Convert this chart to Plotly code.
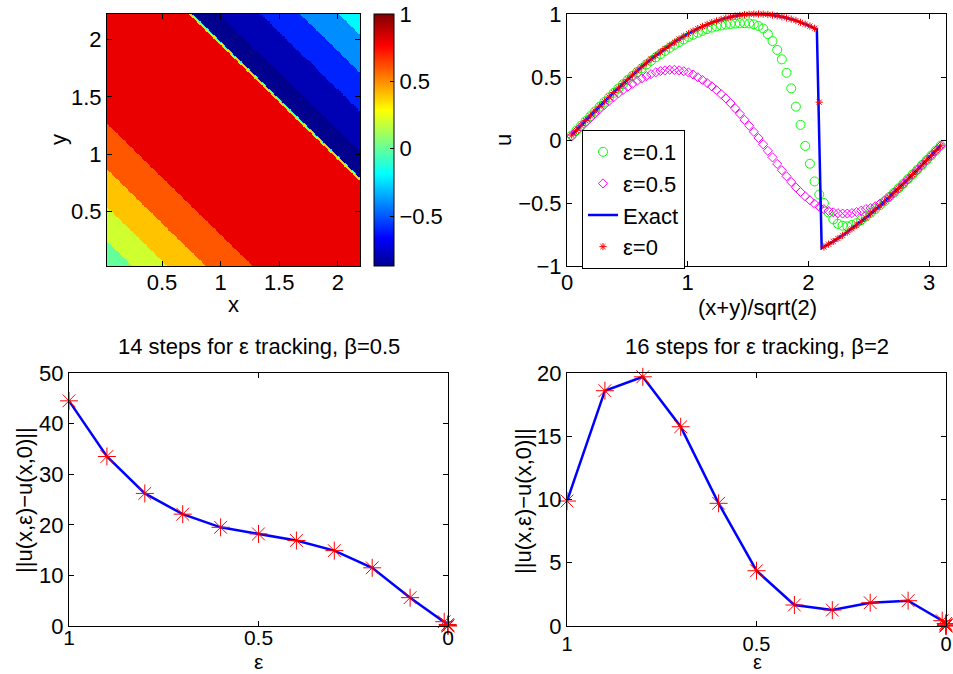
import numpy as np
import plotly.graph_objects as go

# ------------------------------------------------------------------ data
# heatmap (top-left): colour bands of u over (x, y); bands are stripes of constant x+y
HEAT_GRID = np.round(np.arange(0.005, 2.24, 0.01), 3)          # cell centres in x and in y
SUM_EDGES = [0.26, 0.56, 0.89, 1.295, 2.958, 2.972, 2.986, 3.21, 3.57, 3.905, 4.23]   # x+y band limits
BAND_VALUES = [0.0, 0.2, 0.4, 0.6, 0.8, 0.35, -0.15, -0.87, -0.8, -0.6, -0.4, -0.2]
C_MIN, C_MAX = -0.87, 1.0

# profiles along (x+y)/sqrt(2) (top-right)
S_GRID = np.round(0.0387 * np.arange(1, 81), 4)
U_EPS01 = [0.036, 0.074, 0.113, 0.151, 0.189, 0.227, 0.265, 0.302, 0.338, 0.374,
           0.409, 0.443, 0.476, 0.508, 0.539, 0.569, 0.600, 0.628, 0.656, 0.682,
           0.707, 0.732, 0.755, 0.777, 0.798, 0.818, 0.835, 0.852, 0.866, 0.880,
           0.892, 0.901, 0.909, 0.916, 0.921, 0.924, 0.926, 0.927, 0.925, 0.918,
           0.905, 0.885, 0.840, 0.785, 0.715, 0.640, 0.533, 0.410, 0.265, 0.120,
           -0.047, -0.188, -0.329, -0.433, -0.500, -0.575, -0.630, -0.665, -0.680, -0.685,
           -0.675, -0.660, -0.635, -0.607, -0.578, -0.548, -0.517, -0.486, -0.452, -0.418,
           -0.383, -0.347, -0.310, -0.273, -0.236, -0.198, -0.160, -0.122, -0.083, -0.045]
U_EPS05 = [0.030, 0.070, 0.105, 0.140, 0.175, 0.210, 0.245, 0.278, 0.310, 0.340,
           0.370, 0.397, 0.422, 0.446, 0.469, 0.489, 0.507, 0.523, 0.537, 0.547,
           0.553, 0.557, 0.557, 0.553, 0.546, 0.536, 0.520, 0.498, 0.477, 0.452,
           0.425, 0.396, 0.364, 0.331, 0.293, 0.252, 0.208, 0.160, 0.113, 0.065,
           0.016, -0.034, -0.086, -0.138, -0.190, -0.240, -0.288, -0.333, -0.376, -0.413,
           -0.447, -0.478, -0.506, -0.530, -0.549, -0.563, -0.574, -0.581, -0.584, -0.584,
           -0.580, -0.572, -0.561, -0.548, -0.540, -0.525, -0.505, -0.480, -0.452, -0.420,
           -0.385, -0.349, -0.312, -0.274, -0.237, -0.199, -0.161, -0.123, -0.084, -0.046]
U_EPS0 = [0.039, 0.077, 0.116, 0.154, 0.192, 0.230, 0.268, 0.305, 0.341, 0.377,
          0.413, 0.448, 0.482, 0.516, 0.548, 0.580, 0.612, 0.642, 0.671, 0.699,
          0.726, 0.752, 0.777, 0.801, 0.824, 0.845, 0.865, 0.884, 0.901, 0.917,
          0.932, 0.945, 0.957, 0.968, 0.977, 0.984, 0.990, 0.995, 0.998, 1.000,
          1.000, 0.999, 0.996, 0.991, 0.986, 0.978, 0.969, 0.959, 0.948, 0.934,
          0.920, 0.904, 0.887, 0.300, -0.849, -0.827, -0.805, -0.782, -0.757, -0.731,
          -0.704, -0.676, -0.647, -0.617, -0.586, -0.554, -0.522, -0.488, -0.454, -0.419,
          -0.384, -0.348, -0.311, -0.274, -0.237, -0.199, -0.161, -0.123, -0.084, -0.046]
EXACT_S = [0.04, 0.1, 0.2, 0.3, 0.4, 0.5, 0.6, 0.7, 0.8, 0.9, 1.0, 1.1, 1.2, 1.3, 1.4, 1.5, 1.6,
           1.7, 1.8, 1.9, 2.0, 2.07, 2.11, 2.2, 2.3, 2.4, 2.5, 2.6, 2.7, 2.8, 2.9, 3.0, 3.1]
EXACT_U = [0.04, 0.0998, 0.1987, 0.2955, 0.3894, 0.4794, 0.5646, 0.6442, 0.7174, 0.7833,
           0.8415, 0.8912, 0.9320, 0.9636, 0.9854, 0.9975, 0.9996, 0.9917, 0.9738, 0.9463,
           0.9093, 0.8779, -0.8580, -0.8085, -0.7457, -0.6755, -0.5985, -0.5155, -0.4274,
           -0.3350, -0.2392, -0.1411, -0.0416]

# epsilon tracking (bottom)
EPS_A = [1.0, 0.9, 0.8, 0.7, 0.6, 0.5, 0.4, 0.3, 0.2, 0.1, 0.01, 0.001, 0.0001, 0.0]
ERR_A = [44.5, 33.5, 26.2, 22.1, 19.5, 18.2, 16.9, 14.9, 11.5, 5.6, 0.85, 0.3, 0.1, 0.0]
EPS_B = [1.0, 0.9, 0.8, 0.7, 0.6, 0.5, 0.4, 0.3, 0.2, 0.1, 0.01, 0.001, 0.0001, 1e-5, 1e-6, 0.0]
ERR_B = [9.88, 18.6, 19.7, 15.75, 9.7, 4.37, 1.66, 1.26, 1.84, 2.0, 0.42, 0.2, 0.1, 0.05, 0.02, 0.0]

TITLE_A = "14 steps for ε tracking, β=0.5"
TITLE_B = "16 steps for ε tracking, β=2"
ERR_LABEL = "||u(x,ε)−u(x,0)||"

# ------------------------------------------------------------------ helpers
W, H = 953, 674
FONT = "Liberation Sans, Arial, Helvetica, sans-serif"
FS = 22


def dom_x(a, b):
    return [a / W, b / W]


def dom_y(top, bottom):
    return [1 - bottom / H, 1 - top / H]


JET = [[0.0, "rgb(0,0,143)"], [0.111, "rgb(0,0,255)"], [0.365, "rgb(0,255,255)"],
       [0.619, "rgb(255,255,0)"], [0.873, "rgb(255,0,0)"], [1.0, "rgb(128,0,0)"]]

gx, gy = np.meshgrid(HEAT_GRID, HEAT_GRID)
band_idx = np.searchsorted(np.array(SUM_EDGES), gx + gy)
Z = np.array(BAND_VALUES)[band_idx]

fig = go.Figure()

fig.add_trace(go.Heatmap(
    x=HEAT_GRID, y=HEAT_GRID, z=Z, zmin=C_MIN, zmax=C_MAX, colorscale=JET,
    zsmooth=False, xaxis="x", yaxis="y", hoverinfo="skip",
    colorbar=dict(x=374 / W, xanchor="left", xpad=0, ypad=0,
                  y=1 - 140 / H, yanchor="middle", len=252 / H, lenmode="fraction",
                  thickness=20, thicknessmode="pixels",
                  outlinecolor="black", outlinewidth=1,
                  tickvals=[-0.5, 0, 0.5, 1], ticktext=["−0.5", "0", "0.5", "1"],
                  ticks="inside", ticklen=4, tickcolor="black",
                  tickfont=dict(family=FONT, size=FS, color="black")),
))

fig.add_trace(go.Scatter(
    x=S_GRID, y=U_EPS01, mode="markers", name="ε=0.1", legendgroup="a",
    marker=dict(symbol="circle-open", size=9, color="rgb(0,255,0)", line=dict(width=1, color="rgb(0,255,0)")),
    xaxis="x2", yaxis="y2", cliponaxis=False))
fig.add_trace(go.Scatter(
    x=S_GRID, y=U_EPS05, mode="markers", name="ε=0.5", legendgroup="b",
    marker=dict(symbol="diamond-open", size=7, color="rgb(255,0,255)", line=dict(width=1, color="rgb(255,0,255)")),
    xaxis="x2", yaxis="y2", cliponaxis=False))
fig.add_trace(go.Scatter(
    x=EXACT_S, y=EXACT_U, mode="lines", name="Exact", legendgroup="c",
    line=dict(color="rgb(0,0,255)", width=2.5),
    xaxis="x2", yaxis="y2", cliponaxis=False))
fig.add_trace(go.Scatter(
    x=S_GRID, y=U_EPS0, mode="markers", name="ε=0", legendgroup="d",
    marker=dict(symbol="asterisk-open", size=6, color="red", line=dict(width=1, color="red")),
    xaxis="x2", yaxis="y2", cliponaxis=False))

for xs, ys, xa, ya in [(EPS_A, ERR_A, "x3", "y3"), (EPS_B, ERR_B, "x4", "y4")]:
    fig.add_trace(go.Scatter(
        x=xs, y=ys, mode="lines+markers", showlegend=False,
        line=dict(color="rgb(0,0,255)", width=2.5),
        marker=dict(symbol="asterisk-open", size=15, color="red", line=dict(width=1, color="red")),
        xaxis=xa, yaxis=ya, cliponaxis=False))


def ax(domain, rng, tickvals, ticktext, anchor, standoff=None, fs=FS):
    d = dict(domain=domain, range=rng, anchor=anchor, showline=True, linecolor="black", linewidth=1,
             mirror="ticks", ticks="inside", ticklen=5, tickcolor="black", tickwidth=1,
             showgrid=False, zeroline=False, tickvals=tickvals, ticktext=ticktext,
             tickfont=dict(family=FONT, size=fs, color="black"), fixedrange=True,
             ticklabeloverflow="allow")
    if standoff is not None:
        d["ticklabelstandoff"] = standoff
    return d


lay = dict(
    width=W, height=H, margin=dict(l=0, r=0, t=0, b=0, autoexpand=False),
    paper_bgcolor="white", plot_bgcolor="white",
    font=dict(family=FONT, size=FS, color="black"),
    xaxis=ax(dom_x(107, 360), [0.03, 2.19], [0.5, 1, 1.5, 2], ["0.5", "1", "1.5", "2"], "y", -3),
    yaxis=ax(dom_y(14, 266), [0.02, 2.225], [0.5, 1, 1.5, 2], ["0.5", "1", "1.5", "2"], "x"),
    xaxis2=ax(dom_x(567, 946), [0, 3.14], [0, 1, 2, 3], ["0", "1", "2", "3"], "y2", -3),
    yaxis2=ax(dom_y(14, 266), [-1, 1], [-1, -0.5, 0, 0.5, 1], ["−1", "−0.5", "0", "0.5", "1"], "x2"),
    xaxis3=ax(dom_x(69, 448), [1, 0], [0, 0.5, 1], ["0", "0.5", "1"], "y3", -7, 21),
    yaxis3=ax(dom_y(373, 626), [0, 50], [0, 10, 20, 30, 40, 50], ["0", "10", "20", "30", "40", "50"], "x3"),
    xaxis4=ax(dom_x(567, 946), [1, 0], [0, 0.5, 1], ["0", "0.5", "1"], "y4", None, 20),
    yaxis4=ax(dom_y(373, 626), [0, 20], [0, 5, 10, 15, 20], ["0", "5", "10", "15", "20"], "x4"),
    legend=dict(x=582 / W, y=1 - 130 / H, xanchor="left", yanchor="top",
                bordercolor="black", borderwidth=1, bgcolor="white",
                font=dict(family=FONT, size=FS, color="black"),
                tracegroupgap=3, traceorder="normal"),
    showlegend=True,
)
fig.update_layout(**lay)


def label(text, px, py, angle=0, yanchor="middle", fs=FS):
    fig.add_annotation(text=text, x=px / W, y=1 - py / H, xref="paper", yref="paper",
                       xanchor="center", yanchor=yanchor, showarrow=False, textangle=angle,
                       borderpad=0, font=dict(family=FONT, size=fs, color="black"))


label("x", 233.5, 304)
label("y", 58, 140, -90)
label("(x+y)/sqrt(2)", 757, 307)
label("u", 503, 140, -90)
label(TITLE_A, 258.5, 347)
label(TITLE_B, 757, 347)
label("ε", 258.5, 674, yanchor="bottom", fs=21)
label("ε", 757, 674, yanchor="bottom", fs=20)
label(ERR_LABEL, 24, 500, -90)
label(ERR_LABEL, 523, 501, -90)

fig.write_html("out.html")
